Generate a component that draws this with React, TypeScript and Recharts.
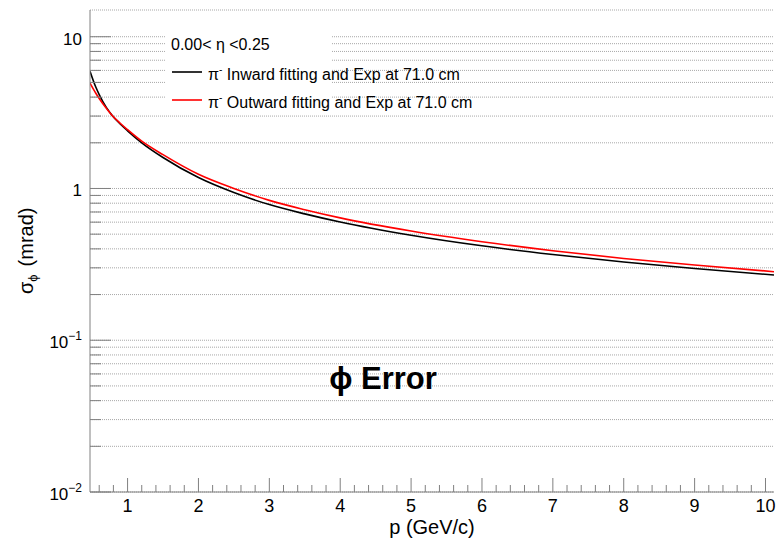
import React from 'react';
import { LineChart, Line, XAxis, YAxis, CartesianGrid, Legend, Label } from 'recharts';

// p (GeV/c) and sigma_phi (mrad)
const momentum = [0.47, 0.55, 0.6, 0.7, 0.78, 0.9, 1.0, 1.2, 1.5, 2.0, 2.5, 3.0, 3.5, 4.0, 5.0, 6.0, 7.0, 8.0, 9.0, 10.12];
const inwardSigma = [5.93, 4.68, 4.16, 3.42, 3.04, 2.65, 2.4, 2.0, 1.6, 1.18, 0.94, 0.783, 0.68, 0.601, 0.492, 0.419, 0.367, 0.328, 0.297, 0.269];
const outwardSigma = [4.95, 4.26, 3.92, 3.38, 3.04, 2.68, 2.44, 2.05, 1.67, 1.24, 1.0, 0.835, 0.725, 0.64, 0.524, 0.446, 0.389, 0.346, 0.313, 0.283];

const seriesNames = ['Inward fitting and Exp at 71.0 cm', 'Outward fitting and Exp at 71.0 cm'];
const seriesColors = ['#000000', '#ff0000'];
const etaLabel = '0.00< \u03b7 <0.25';
const title = '\u03d5 Error';

const xMajorTicks = [1, 2, 3, 4, 5, 6, 7, 8, 9, 10];
const yMajorTicks = [0.01, 0.1, 1, 10];
const yMajorLabels = [['10', '\u22122'], ['10', '\u22121'], ['1', ''], ['10', '']];

const X_DOMAIN = [0.47, 10.12];
const Y_DOMAIN = [0.01, 15];

// minor ticks: 0.2 GeV steps on x, 2..9 per decade on y
const xTicks: number[] = [];
for (let i = 3; i <= 50; i++) xTicks.push(Math.round(i * 2) / 10);
const yTicks: number[] = [];
yMajorTicks.forEach((d) => {
  for (let k = 1; k <= 9; k++) {
    const v = d * k;
    if (v <= Y_DOMAIN[1]) yTicks.push(v);
  }
});

const data = momentum.map((p, i) => ({ p, inward: inwardSigma[i], outward: outwardSigma[i] }));

const FONT = '"Liberation Sans", Arial, Helvetica, sans-serif';
const AXIS = '#808080';

const XTick = (props: any) => {
  const { x, y, payload } = props;
  const v = payload.value;
  const major = xMajorTicks.some((m) => Math.abs(m - v) < 1e-6);
  return (
    <g>
      <line x1={x} x2={x} y1={y} y2={y - (major ? 14 : 7)} stroke={AXIS} strokeWidth={1} />
      {major && (
        <text x={x} y={y + 20} textAnchor="middle" fontSize={18} fontFamily={FONT} fill="#000">
          {Math.round(v)}
        </text>
      )}
    </g>
  );
};

const YTick = (props: any) => {
  const { x, y, payload } = props;
  const v = payload.value;
  const idx = yMajorTicks.findIndex((m) => Math.abs(m - v) / m < 1e-6);
  const major = idx >= 0;
  return (
    <g>
      <line x1={x} x2={x + (major ? 21 : 11)} y1={y} y2={y} stroke={AXIS} strokeWidth={1} />
      {major && (
        <text x={x - 8} y={y + 8} textAnchor="end" fontSize={17} fontFamily={FONT} fill="#000">
          {yMajorLabels[idx][0]}
          {yMajorLabels[idx][1] && (
            <tspan dy={-8} fontSize={12}>
              {yMajorLabels[idx][1]}
            </tspan>
          )}
        </text>
      )}
    </g>
  );
};

const renderLegend = (props: any) => {
  const { payload } = props;
  return (
    <svg width={320} height={90} style={{ overflow: 'visible', display: 'block' }}>
      <rect x={0} y={0} width={167} height={88} fill="#ffffff" />
      <text x={6} y={28} fontSize={16} fontFamily={FONT} fill="#000">
        {etaLabel}
      </text>
      {(payload || []).map((entry: any, i: number) => (
        <g key={i}>
          <line x1={7} x2={37} y1={50 + i * 28} y2={50 + i * 28} stroke={entry.color} strokeWidth={1.6} />
          <text x={43} y={57.5 + i * 28} fontSize={16} fontFamily={FONT} fill="#000">
            {'\u03c0'}
            <tspan dy={-7} fontSize={10}>-</tspan>
            <tspan dy={7}>{' ' + entry.value}</tspan>
          </text>
        </g>
      ))}
    </svg>
  );
};

export default function App() {
  return (
    <div style={{ position: 'absolute', left: 0, top: 0, background: '#fff' }}>
      <LineChart width={777} height={540} data={data} margin={{ top: 10, right: 3, bottom: 18, left: 0 }}>
        <CartesianGrid vertical={false} stroke="#a8a8a8" strokeDasharray="1 1" />
        <XAxis
          dataKey="p"
          type="number"
          domain={X_DOMAIN}
          allowDataOverflow
          ticks={xTicks}
          interval={0}
          tickSize={0}
          tickMargin={0}
          tick={<XTick />}
          height={30}
          axisLine={{ stroke: AXIS }}
        >
          <Label
            content={(p: any) => (
              <text
                x={p.viewBox.x + p.viewBox.width / 2}
                y={534}
                textAnchor="middle"
                fontSize={20}
                fontFamily={FONT}
                fill="#000"
              >
                p (GeV/c)
              </text>
            )}
          />
        </XAxis>
        <XAxis xAxisId="top" orientation="top" type="number" domain={X_DOMAIN} height={0} tick={false} tickLine={false} axisLine={{ stroke: AXIS }} />
        <YAxis
          type="number"
          scale="log"
          domain={Y_DOMAIN}
          allowDataOverflow
          ticks={yTicks}
          interval={0}
          tickSize={0}
          tickMargin={0}
          tick={<YTick />}
          width={90}
          axisLine={{ stroke: AXIS }}
        >
          <Label
            content={() => (
              <text
                x={33}
                y={294}
                transform="rotate(-90, 33, 294)"
                textAnchor="start"
                fontSize={20}
                fontFamily={FONT}
                fill="#000"
              >
                {'\u03c3'}
                <tspan dy={4} fontSize={13}>{'\u03d5'}</tspan>
                <tspan dy={-4} dx={8}>{'(mrad)'}</tspan>
              </text>
            )}
          />
        </YAxis>
        <YAxis yAxisId="right" orientation="right" type="number" domain={[0, 1]} width={0} tick={false} tickLine={false} axisLine={{ stroke: AXIS }} />
        <Legend
          layout="vertical"
          align="center"
          verticalAlign="middle"
          content={renderLegend}
          wrapperStyle={{ left: 165, top: 22, width: 320, height: 90 }}
        />
        <Line
          type="monotone"
          dataKey="inward"
          name={seriesNames[0]}
          stroke={seriesColors[0]}
          strokeWidth={1.6}
          dot={false}
          isAnimationActive={false}
        />
        <Line
          type="monotone"
          dataKey="outward"
          name={seriesNames[1]}
          stroke={seriesColors[1]}
          strokeWidth={1.6}
          dot={false}
          isAnimationActive={false}
        />
        <text x={383} y={389} textAnchor="middle" fontSize={31} fontWeight="bold" fontFamily={FONT} fill="#000">
          {title}
        </text>
      </LineChart>
    </div>
  );
}
